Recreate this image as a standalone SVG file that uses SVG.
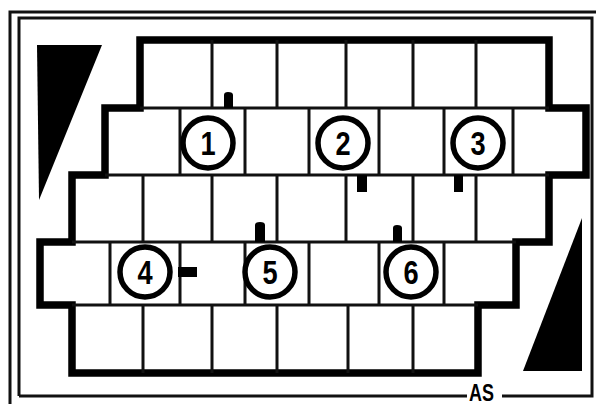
<svg xmlns="http://www.w3.org/2000/svg" width="596" height="404" viewBox="0 0 596 404">
<defs>
<style>
.frame{fill:none;stroke:#111;stroke-width:3}
.outline{fill:#fff;stroke:#000;stroke-width:7.5;stroke-linejoin:miter}
.grid{stroke:#111;stroke-width:3;fill:none}
.ring{fill:#fff;stroke:#000;stroke-width:5.5}
.num{font-family:"Liberation Sans",Arial,sans-serif;font-weight:bold;font-size:34px;fill:#000;text-anchor:middle}
.wall{fill:#000}
.tri{fill:#000}
.sig{font-family:"Liberation Sans",Arial,sans-serif;font-weight:bold;font-size:23px;fill:#000}
</style>
</defs>
<rect width="596" height="404" fill="#fff"/>
<g id="frame">
<path class="frame" d="M10,404 V12 H596"/>
<path class="frame" d="M19,396 V18 H592 V396 H502 M467,396 H19"/>
</g>
<g id="triangles">
<polygon class="tri" points="37,45 102,45 39,200"/>
<polygon class="tri" points="582,218 582,371 523,371"/>
</g>
<g id="board">
<path class="outline" d="M140,40 H549 V108 H586 V175 H549 V242 H516 V305 H478 V373 H72 V305 H40 V242 H72 V175 H105 V108 H140 Z"/>
</g>
<g id="connectors">
<path class="grid" d="M140,108 H549 M105,175 H549 M72,242 H516 M72,305 H478"/>
<path class="grid" d="M212,40 V108 M277,40 V108 M346,40 V108 M413,40 V108 M476,40 V108"/>
<path class="grid" d="M180,108 V175 M245,108 V175 M309,108 V175 M379,108 V175 M444,108 V175 M513,108 V175"/>
<path class="grid" d="M143,175 V242 M212,175 V242 M277,175 V242 M346,175 V242 M413,175 V242 M476,175 V242"/>
<path class="grid" d="M110,242 V305 M180,242 V305 M245,242 V305 M309,242 V305 M379,242 V305 M444,242 V305"/>
<path class="grid" d="M143,305 V373 M212,305 V373 M277,305 V373 M348,305 V373 M413,305 V373"/>
</g>
<g id="walls">
<path class="wall" d="M224,108 V95 Q224,92 228,92 Q233,92 233,95 V108 Z"/>
<rect class="wall" x="357" y="175" width="10" height="17"/>
<rect class="wall" x="454" y="175" width="9" height="17"/>
<rect class="wall" x="178" y="267" width="19" height="10"/>
<path class="wall" d="M255,242 V225 Q255,222 260,222 Q265,222 265,225 V242 Z"/>
<path class="wall" d="M393,242 V228 Q393,225 397,225 Q402,225 402,228 V242 Z"/>
</g>
<g id="node1"><circle class="ring" cx="208" cy="143" r="25"/><text class="num" transform="translate(208,155) scale(0.8,1)">1</text></g>
<g id="node2"><circle class="ring" cx="343" cy="143" r="25"/><text class="num" transform="translate(343,155) scale(0.8,1)">2</text></g>
<g id="node3"><circle class="ring" cx="478" cy="143" r="25"/><text class="num" transform="translate(478,155) scale(0.8,1)">3</text></g>
<g id="node4"><circle class="ring" cx="145" cy="272" r="25"/><text class="num" transform="translate(145,284) scale(0.8,1)">4</text></g>
<g id="node5"><circle class="ring" cx="270" cy="272" r="25"/><text class="num" transform="translate(270,284) scale(0.8,1)">5</text></g>
<g id="node6"><circle class="ring" cx="411" cy="272" r="25"/><text class="num" transform="translate(411,284) scale(0.8,1)">6</text></g>
<g id="signature"><text class="sig" transform="translate(469,401) scale(0.78,1)">AS</text></g>
</svg>
